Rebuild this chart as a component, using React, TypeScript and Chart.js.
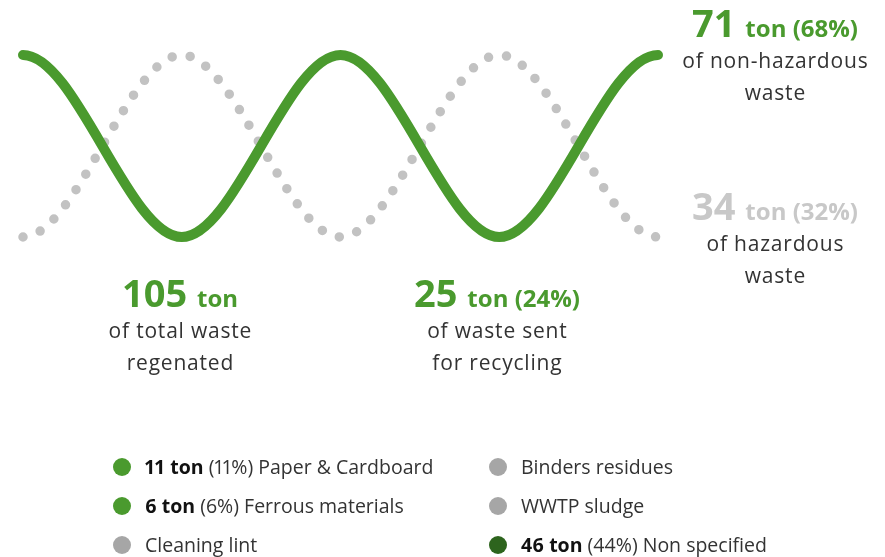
import React, { useEffect, useRef } from "react";
import { Chart, registerables } from "chart.js";

Chart.register(...registerables);

// Wave nodes (peaks and troughs), left to right
const waveNodes = [0, 1, 2, 3, 4];
const nonHazardousWave = [1, 0, 1, 0, 1];
const hazardousWave = [0, 1, 0, 1, 0];

// Headline figures
const nonHazardous = { value: "71", unit: "ton (68%)", lines: ["of non-hazardous", "waste"] };
const hazardous = { value: "34", unit: "ton (32%)", lines: ["of hazardous", "waste"] };
const totalWaste = { value: "105", unit: "ton", lines: ["of total waste", "regenated"] };
const recycled = { value: "25", unit: "ton (24%)", lines: ["of waste sent", "for recycling"] };

// Legend
const legendBold = ["11 ton", "6 ton", "", "", "", "46 ton"];
const legendPct = ["(11%)", "(6%)", "", "", "", "(44%)"];
const legendNames = [
  "Paper & Cardboard",
  "Ferrous materials",
  "Cleaning lint",
  "Binders residues",
  "WWTP sludge",
  "Non specified",
];
const legendKinds = ["green", "green", "grey", "grey", "grey", "dark"];

const GREEN = "#4a9a2e";
const WAVE_GREY = "#c2c2c2";
const TEXT = "#333333";
const FONT = "'Open Sans', sans-serif";
const dotColors: Record<string, string> = { green: "#4a9a2e", grey: "#a6a6a6", dark: "#2d641d" };

// repeat end nodes so the curve leaves them flat (monotone tangent = 0)
const toPoints = (vals: number[]) => {
  const pts = vals.map((y, i) => ({ x: waveNodes[i], y }));
  return [{ ...pts[0] }, ...pts, { ...pts[pts.length - 1] }];
};

const ASC = 0.888; // baseline offset factor for line-height = font-size (Open Sans)

function TextLine(props: {
  cx: number;
  baseline: number;
  size: number;
  weight?: number;
  color?: string;
  spacing?: number;
  children: React.ReactNode;
}) {
  const { cx, baseline, size, weight = 400, color = TEXT, spacing = 0, children } = props;
  return (
    <div
      style={{
        position: "absolute",
        left: cx - 150 + spacing / 2,
        width: 300,
        top: baseline - ASC * size,
        textAlign: "center",
        fontFamily: FONT,
        fontSize: size,
        lineHeight: `${size}px`,
        fontWeight: weight,
        letterSpacing: spacing ? `${spacing}px` : undefined,
        color,
        whiteSpace: "nowrap",
      }}
    >
      {children}
    </div>
  );
}

function Figure(props: {
  cx: number;
  baseline: number;
  color: string;
  item: { value: string; unit: string; lines: string[] };
}) {
  const { cx, baseline, color, item } = props;
  return (
    <>
      <TextLine cx={cx} baseline={baseline} size={38} weight={700} color={color}>
        {item.value}{" "}
        <span style={{ fontSize: 24, lineHeight: "24px" }}>{item.unit}</span>
      </TextLine>
      {item.lines.map((l, i) => (
        <TextLine key={i} cx={cx} baseline={baseline + 32 + i * 32} size={21} spacing={0.8}>
          {l}
        </TextLine>
      ))}
    </>
  );
}

export default function App() {
  const canvasRef = useRef<HTMLCanvasElement | null>(null);

  useEffect(() => {
    if (!canvasRef.current) return;
    const chart = new Chart(canvasRef.current, {
      type: "line",
      data: {
        datasets: [
          {
            label: "Non-hazardous waste",
            data: toPoints(nonHazardousWave),
            borderColor: GREEN,
            borderWidth: 10,
            borderCapStyle: "round",
            borderJoinStyle: "round",
            pointRadius: 0,
            cubicInterpolationMode: "monotone",
            clip: false,
            fill: false,
          },
          {
            label: "Hazardous waste",
            data: toPoints(hazardousWave),
            borderColor: WAVE_GREY,
            borderWidth: 9.5,
            borderDash: [0, 18.4],
            borderCapStyle: "round",
            borderJoinStyle: "round",
            pointRadius: 0,
            cubicInterpolationMode: "monotone",
            clip: false,
            fill: false,
          },
        ],
      },
      options: {
        responsive: false,
        animation: false,
        events: [],
        layout: { padding: { left: 23, right: 227, top: 55, bottom: 320 } },
        scales: {
          x: { type: "linear", min: 0, max: 4, display: false },
          y: { min: 0, max: 1, display: false },
        },
        plugins: { legend: { display: false }, tooltip: { enabled: false } },
      },
    });
    return () => chart.destroy();
  }, []);

  return (
    <div style={{ position: "absolute", left: 0, top: 0, width: 885, height: 557, background: "#fff", overflow: "hidden" }}>
      <canvas ref={canvasRef} width={885} height={557} style={{ position: "absolute", left: 0, top: 0 }} />

      <Figure cx={775} baseline={37} color={GREEN} item={nonHazardous} />
      <Figure cx={775} baseline={220} color="#c8c8c8" item={hazardous} />
      <Figure cx={180} baseline={307} color={GREEN} item={totalWaste} />
      <Figure cx={497} baseline={307} color={GREEN} item={recycled} />

      {legendNames.map((name, i) => {
        const col = i < 3 ? 0 : 1;
        const row = i % 3;
        const dotX = col === 0 ? 122 : 498;
        const cy = 467 + row * 39;
        const size = 19.5;
        return (
          <div key={name}>
            <div
              style={{
                position: "absolute",
                left: dotX - 9,
                top: cy - 9,
                width: 18,
                height: 18,
                borderRadius: 9,
                background: dotColors[legendKinds[i]],
              }}
            />
            <div
              style={{
                position: "absolute",
                left: dotX + 23,
                top: cy + 7.5 - ASC * size,
                fontFamily: FONT,
                fontSize: size,
                lineHeight: `${size}px`,
                fontVariantNumeric: "proportional-nums",
                color: TEXT,
                whiteSpace: "nowrap",
              }}
            >
              {legendBold[i] ? <b style={{ color: "#111" }}>{legendBold[i]} </b> : null}
              {legendPct[i] ? `${legendPct[i]} ` : ""}
              {name}
            </div>
          </div>
        );
      })}
    </div>
  );
}
